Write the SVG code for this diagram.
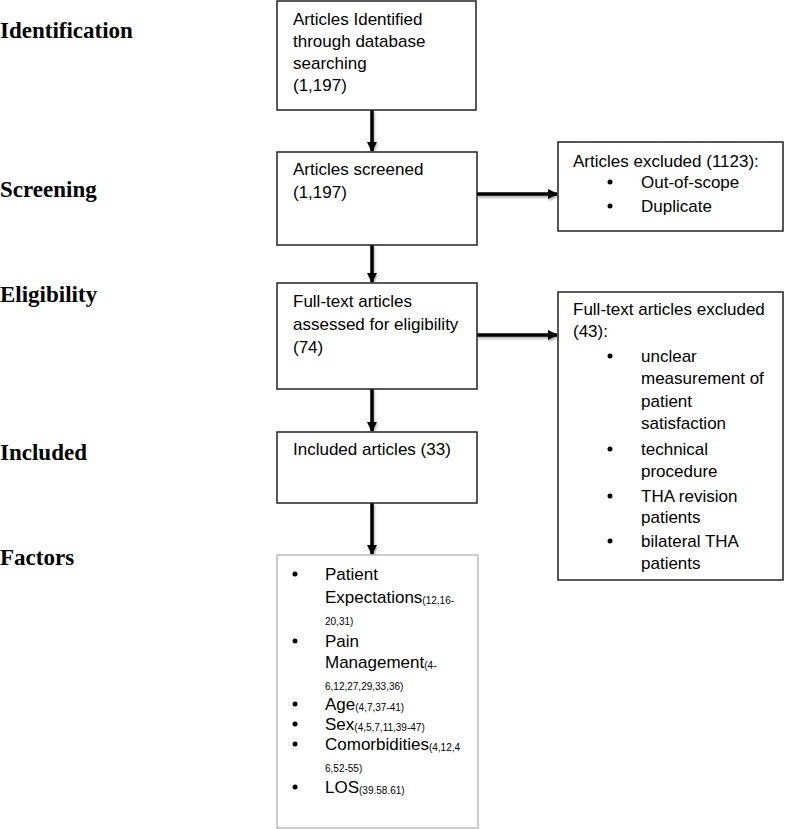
<svg xmlns="http://www.w3.org/2000/svg" width="785" height="829" viewBox="0 0 785 829">
<style>
.stage{font-family:"Liberation Serif","Times New Roman",serif;font-weight:bold;font-size:23px;fill:#000}
.t{font-family:"Liberation Sans",Arial,sans-serif;font-size:17px;fill:#000}
.s{font-size:10px}
.box{fill:#fff;stroke:#222;stroke-width:1.5}
.fbox{fill:#fff;stroke:#aaa;stroke-width:1.2}
.c{stroke:#000;stroke-width:3.5;fill:none}
</style>
<defs>
<marker id="ah" markerWidth="10" markerHeight="10" refX="9" refY="5" orient="auto" markerUnits="userSpaceOnUse">
<path d="M0,0 L10,5 L0,10 Z" fill="#000"/>
</marker>
<filter id="sh" x="-20%" y="-20%" width="140%" height="140%">
<feDropShadow dx="1" dy="2" stdDeviation="1.2" flood-color="#000" flood-opacity="0.3"/>
</filter>
</defs>
<rect width="785" height="829" fill="#fff"/>
<g id="stages">
<text class="stage" x="0" y="38">Identification</text>
<text class="stage" x="0" y="197">Screening</text>
<text class="stage" x="0" y="302">Eligibility</text>
<text class="stage" x="0" y="460">Included</text>
<text class="stage" x="0" y="565">Factors</text>
</g>
<g id="connectors" filter="url(#sh)">
<line class="c" x1="372" y1="110" x2="372" y2="151" marker-end="url(#ah)"/>
<line class="c" x1="372" y1="245" x2="372" y2="282" marker-end="url(#ah)"/>
<line class="c" x1="372" y1="389" x2="372" y2="431" marker-end="url(#ah)"/>
<line class="c" x1="372" y1="503" x2="372" y2="554" marker-end="url(#ah)"/>
<line class="c" x1="477" y1="194" x2="557" y2="194" marker-end="url(#ah)"/>
<line class="c" x1="477" y1="335" x2="557" y2="335" marker-end="url(#ah)"/>
</g>
<g id="n1">
<rect class="box" x="277" y="1" width="199" height="109"/>
<text class="t" x="293" y="25">Articles Identified</text>
<text class="t" x="293" y="47">through database</text>
<text class="t" x="293" y="69">searching</text>
<text class="t" x="293" y="91">(1,197)</text>
</g>
<g id="n2">
<rect class="box" x="277" y="152" width="200" height="93"/>
<text class="t" x="293" y="175">Articles screened</text>
<text class="t" x="293" y="198">(1,197)</text>
</g>
<g id="n3">
<rect class="box" x="558" y="142" width="225" height="89"/>
<text class="t" x="573" y="167">Articles excluded (1123):</text>
<circle cx="610" cy="182" r="2.5"/>
<text class="t" x="641" y="188">Out-of-scope</text>
<circle cx="610" cy="206" r="2.5"/>
<text class="t" x="641" y="212">Duplicate</text>
</g>
<g id="n4">
<rect class="box" x="277" y="283" width="200" height="106"/>
<text class="t" x="293" y="307">Full-text articles</text>
<text class="t" x="293" y="330">assessed for eligibility</text>
<text class="t" x="293" y="353">(74)</text>
</g>
<g id="n5">
<rect class="box" x="558" y="292" width="225" height="288"/>
<text class="t" x="573" y="315">Full-text articles excluded</text>
<text class="t" x="573" y="337">(43):</text>
<circle cx="610" cy="356" r="2.5"/>
<text class="t" x="641" y="362">unclear</text>
<text class="t" x="641" y="384">measurement of</text>
<text class="t" x="641" y="407">patient</text>
<text class="t" x="641" y="429">satisfaction</text>
<circle cx="610" cy="449" r="2.5"/>
<text class="t" x="641" y="455">technical</text>
<text class="t" x="641" y="477">procedure</text>
<circle cx="610" cy="496" r="2.5"/>
<text class="t" x="641" y="502">THA revision</text>
<text class="t" x="641" y="523">patients</text>
<circle cx="610" cy="541" r="2.5"/>
<text class="t" x="641" y="547">bilateral THA</text>
<text class="t" x="641" y="569">patients</text>
</g>
<g id="n6">
<rect class="box" x="277" y="432" width="200" height="71"/>
<text class="t" x="293" y="455">Included articles (33)</text>
</g>
<g id="n7">
<rect class="fbox" x="277" y="555" width="201" height="273"/>
<circle cx="295" cy="574" r="2.5"/>
<text class="t" x="325" y="580">Patient</text>
<text class="t" x="325" y="603">Expectations<tspan class="s" dy="1">(12,16-</tspan></text>
<text class="t s" x="325" y="625">20,31)</text>
<circle cx="295" cy="641" r="2.5"/>
<text class="t" x="325" y="647">Pain</text>
<text class="t" x="325" y="668">Management<tspan class="s" dy="1">(4-</tspan></text>
<text class="t s" x="325" y="690">6,12,27,29,33,36)</text>
<circle cx="295" cy="704" r="2.5"/>
<text class="t" x="325" y="710">Age<tspan class="s" dy="1">(4,7,37-41)</tspan></text>
<circle cx="295" cy="724" r="2.5"/>
<text class="t" x="325" y="730">Sex<tspan class="s" dy="1">(4,5,7,11,39-47)</tspan></text>
<circle cx="295" cy="744" r="2.5"/>
<text class="t" x="325" y="750">Comorbidities<tspan class="s" dy="1">(4,12,4</tspan></text>
<text class="t s" x="325" y="772">6,52-55)</text>
<circle cx="295" cy="787" r="2.5"/>
<text class="t" x="325" y="793">LOS<tspan class="s" dy="1">(39.58.61)</tspan></text>
</g>
</svg>
